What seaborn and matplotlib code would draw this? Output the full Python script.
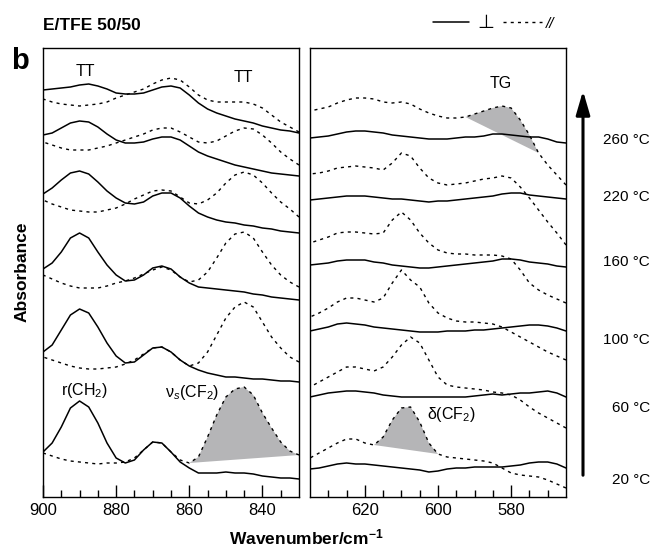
import numpy as np
import seaborn as sns
import matplotlib.pyplot as plt
from matplotlib.lines import Line2D

# wavenumber grids (cm-1), one per panel
wn_left = [900, 897.5, 895, 892.5, 890, 887.5, 885, 882.5, 880, 877.5, 875, 872.5, 870, 867.5, 865,
           862.5, 860, 857.5, 855, 852.5, 850, 847.5, 845, 842.5, 840, 837.5, 835, 832.5, 830]
wn_right = [635, 632.5, 630, 627.5, 625, 622.5, 620, 617.5, 615, 612.5, 610, 607.5, 605, 602.5, 600,
            597.5, 595, 592.5, 590, 587.5, 585, 582.5, 580, 577.5, 575, 572.5, 570, 567.5, 565]

temps = ["20 °C", "60 °C", "100 °C", "160 °C", "220 °C", "260 °C"]

# stacked absorbance (offset, arbitrary units), rows from 20 °C to 260 °C
left_perp = [
    [45, 54, 70, 89, 96, 90, 74, 54, 39, 34, 37, 47, 55, 54, 45, 35, 29, 24, 24, 24, 25, 24, 24, 23, 21, 20, 19, 19, 18],
    [145, 152, 167, 182, 188, 184, 170, 154, 141, 134, 135, 142, 149, 150, 145, 137, 131, 127, 124, 122, 120, 120, 119, 118, 118, 117, 116, 116, 115],
    [228, 234, 245, 259, 264, 259, 245, 232, 222, 216, 217, 222, 229, 231, 228, 220, 214, 210, 209, 208, 207, 206, 205, 203, 202, 200, 199, 198, 197],
    [303, 309, 317, 324, 326, 323, 315, 306, 299, 294, 293, 295, 301, 304, 304, 299, 291, 284, 280, 277, 275, 274, 272, 271, 269, 268, 266, 265, 264],
    [362, 364, 369, 374, 376, 375, 370, 363, 357, 354, 354, 355, 358, 360, 360, 357, 351, 345, 341, 338, 335, 332, 330, 328, 326, 324, 323, 322, 321],
    [407, 408, 409, 410, 412, 413, 411, 408, 404, 403, 403, 404, 407, 410, 411, 409, 402, 394, 388, 384, 381, 378, 376, 374, 371, 369, 367, 366, 364],
]
left_par = [
    [44, 41, 38, 36, 35, 34, 33, 34, 34, 35, 39, 47, 55, 54, 45, 37, 34, 40, 60, 82, 100, 108, 110, 102, 84, 69, 55, 46, 42],
    [140, 137, 134, 131, 129, 128, 128, 129, 130, 133, 137, 143, 149, 150, 145, 137, 131, 134, 145, 162, 179, 190, 195, 190, 175, 160, 149, 140, 135],
    [222, 218, 214, 211, 209, 209, 209, 211, 214, 216, 219, 223, 227, 230, 227, 220, 215, 217, 225, 239, 254, 263, 265, 259, 245, 232, 222, 215, 210],
    [297, 293, 290, 287, 286, 285, 285, 287, 289, 293, 298, 302, 306, 307, 306, 300, 294, 293, 297, 304, 314, 322, 325, 322, 314, 304, 295, 288, 280],
    [355, 352, 349, 347, 347, 347, 349, 351, 354, 357, 360, 363, 367, 369, 369, 365, 360, 355, 354, 356, 361, 366, 369, 368, 362, 354, 345, 338, 332],
    [398, 395, 393, 392, 391, 392, 393, 395, 399, 402, 405, 408, 413, 417, 419, 417, 410, 402, 397, 395, 395, 395, 395, 393, 389, 382, 375, 370, 365],
]
right_perp = [
    [28, 29, 31, 33, 34, 33, 33, 32, 31, 30, 29, 28, 27, 25, 26, 28, 29, 29, 30, 30, 30, 30, 31, 32, 34, 35, 35, 33, 29],
    [100, 102, 104, 105, 106, 106, 105, 104, 102, 101, 100, 100, 100, 100, 100, 100, 100, 100, 101, 102, 103, 102, 103, 104, 104, 105, 106, 104, 100],
    [166, 168, 170, 173, 174, 173, 172, 170, 169, 168, 167, 166, 165, 165, 165, 166, 166, 166, 167, 167, 168, 169, 170, 171, 172, 172, 171, 169, 166],
    [232, 233, 234, 236, 237, 237, 237, 235, 234, 232, 231, 230, 229, 229, 230, 231, 232, 233, 234, 235, 236, 238, 238, 237, 235, 234, 233, 231, 230],
    [297, 298, 299, 300, 301, 301, 301, 300, 299, 298, 298, 297, 296, 295, 296, 296, 297, 298, 299, 300, 301, 303, 304, 304, 302, 301, 300, 299, 298],
    [359, 360, 361, 363, 365, 366, 366, 365, 364, 362, 361, 360, 359, 358, 358, 358, 359, 360, 360, 361, 363, 363, 362, 361, 360, 360, 358, 355, 354],
]
right_par = [
    [39, 44, 49, 54, 58, 58, 54, 52, 60, 77, 89, 90, 75, 54, 43, 40, 39, 38, 37, 36, 34, 29, 24, 22, 21, 20, 17, 13, 9],
    [110, 115, 120, 125, 130, 130, 128, 126, 130, 140, 152, 160, 154, 137, 120, 112, 110, 109, 108, 107, 105, 104, 102, 97, 90, 84, 79, 74, 69],
    [180, 184, 189, 195, 199, 199, 197, 195, 199, 214, 227, 217, 210, 194, 184, 179, 176, 175, 175, 174, 173, 170, 165, 160, 155, 150, 145, 141, 137],
    [254, 257, 260, 264, 265, 265, 264, 263, 264, 277, 285, 277, 264, 254, 247, 244, 243, 243, 242, 242, 242, 241, 238, 227, 214, 207, 202, 198, 194],
    [323, 324, 326, 329, 330, 331, 330, 329, 327, 334, 344, 341, 329, 319, 314, 312, 313, 314, 316, 318, 319, 321, 319, 310, 299, 287, 275, 264, 252],
    [386, 388, 390, 394, 397, 399, 399, 398, 395, 394, 395, 393, 388, 384, 381, 379, 379, 380, 383, 386, 389, 391, 389, 377, 362, 344, 332, 322, 312],
]

# shaded bands: (panel, row, wn from, wn to)
shades = [("left", 0, 860, 830), ("right", 0, 617.5, 600), ("right", 5, 592.5, 572.5)]

sns.set_theme(style="white")
plt.rcParams['font.family'] = ['Liberation Sans', 'DejaVu Sans']
plt.rcParams['text.color'] = 'black'
plt.rcParams['axes.labelcolor'] = 'black'
plt.rcParams['xtick.color'] = 'black'
plt.rcParams['mathtext.fontset'] = 'custom'
plt.rcParams['mathtext.rm'] = 'Liberation Sans'
plt.rcParams['mathtext.it'] = 'Liberation Sans:italic'
plt.rcParams['mathtext.bf'] = 'Liberation Sans:bold'

W, H = 654, 552
fig = plt.figure(figsize=(W / 100, H / 100), dpi=100)


def fx(px):
    return px / W


def fy(py):
    return 1 - py / H


ax1 = fig.add_axes([fx(43), fy(497), 256 / W, 449 / H])
ax2 = fig.add_axes([fx(310), fy(497), 256 / W, 449 / H])

dash = (0, (2.2, 3.0))
grey = "#b5b5b7"

for ax, wn, perp, par in [(ax1, wn_left, left_perp, left_par), (ax2, wn_right, right_perp, right_par)]:
    for i in range(len(temps)):
        sns.lineplot(x=wn, y=perp[i], ax=ax, color="black", lw=1.1, errorbar=None)
        sns.lineplot(x=wn, y=par[i], ax=ax, color="black", lw=1.0, linestyle=dash, errorbar=None)
    ax.set_ylim(0, 449)
    ax.set_yticks([])
    ax.set_ylabel("")
    ax.set_xlabel("")
    for s in ax.spines.values():
        s.set_color("black")
        s.set_linewidth(1.0)
    ax.tick_params(axis="x", direction="in", length=9, width=1, labelsize=12, pad=4,
                   colors="black", bottom=True)
    ax.tick_params(axis="x", which="minor", direction="in", length=5, width=1, bottom=True)

ax1.set_xlim(900, 830)
ax1.set_xticks([900, 880, 860, 840])
ax1.set_xticks(np.arange(895, 830, -5), minor=True)
ax2.set_xlim(635, 565)
ax2.set_xticks([620, 600, 580])
ax2.set_xticks(np.arange(630, 565, -5), minor=True)

# shaded peak areas closed by a straight baseline
for panel, row, w0, w1 in shades:
    ax = ax1 if panel == "left" else ax2
    wn = np.array(wn_left if panel == "left" else wn_right)
    vals = np.array(left_par[row] if panel == "left" else right_par[row])
    m = (wn <= w0) & (wn >= w1)
    ax.fill(wn[m], vals[m], color=grey, lw=0, zorder=1)

# band labels
fig.text(fx(85), fy(72), "TT", fontsize=11.5, ha="center", va="center")
fig.text(fx(243), fy(78), "TT", fontsize=11.5, ha="center", va="center")
fig.text(fx(501), fy(84), "TG", fontsize=11.5, ha="center", va="center")
fig.text(fx(84), fy(390), "r(CH$_2$)", fontsize=11.5, ha="center", va="center")
fig.text(fx(192), fy(393), "ν$_s$(CF$_2$)", fontsize=11.5, ha="center", va="center")
fig.text(fx(451), fy(414), "δ(CF$_2$)", fontsize=11.5, ha="center", va="center")

# temperature labels and arrow
temp_y = [480, 408, 340, 262, 197, 140]
for t, y in zip(temps, temp_y):
    fig.text(fx(650), fy(y), t, fontsize=11, ha="right", va="center")
fig.add_artist(plt.Annotation("", xy=(fx(583), fy(88)), xytext=(fx(583), fy(478)),
                              xycoords="figure fraction", textcoords="figure fraction",
                              arrowprops=dict(arrowstyle="-|>,head_width=0.35,head_length=1.2",
                                              lw=2.2, color="black")))

# titles and axis labels
fig.text(fx(43), fy(25), "E/TFE 50/50", fontsize=12.5, fontweight="bold", ha="left", va="center")
fig.text(fx(11), fy(61), "b", fontsize=21, fontweight="bold", ha="left", va="center")
fig.text(fx(22), fy(272), "Absorbance", fontsize=12.5, fontweight="bold", rotation=90,
         ha="center", va="center")
fig.text(fx(306), fy(537), "Wavenumber/cm$^{\\mathbf{-1}}$", fontsize=12.5, fontweight="bold",
         ha="center", va="center")

# legend: solid = perpendicular, dashed = parallel
fig.add_artist(Line2D([fx(433), fx(469)], [fy(22), fy(22)], color="black", lw=1.1))
fig.text(fx(486), fy(24), "⊥", fontsize=14, ha="center", va="center")
fig.add_artist(Line2D([fx(503), fx(542)], [fy(22), fy(22)], color="black", lw=1.0, linestyle=dash))
fig.text(fx(550), fy(24), "//", fontsize=11, ha="center", va="center", style="italic")

fig.savefig("out.png", dpi=100)
